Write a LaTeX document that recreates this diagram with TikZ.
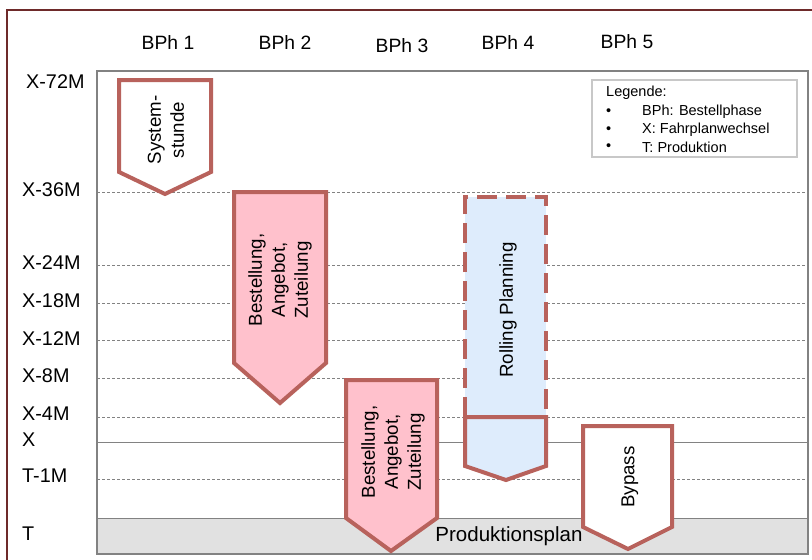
\documentclass[tikz,border=0pt]{standalone}
\usepackage{fontspec}
\setmainfont{Liberation Sans}
\definecolor{framered}{RGB}{110,42,42}
\definecolor{shapered}{RGB}{184,98,92}
\definecolor{pinkfill}{RGB}{255,193,204}
\definecolor{bluefill}{RGB}{222,236,252}
\definecolor{gridgray}{RGB}{130,130,130}
\definecolor{bandgray}{RGB}{225,225,225}
\definecolor{legendgray}{RGB}{200,200,200}
\begin{document}
\begin{tikzpicture}[x=1pt,y=1pt,
  axislabel/.style={anchor=west, inner sep=0pt, font=\fontsize{19.8}{22}\selectfont},
  header/.style={inner sep=0pt, font=\fontsize{19.3}{22}\selectfont},
  gridline/.style={draw=gridgray, line width=0.8pt, dash pattern=on 3pt off 2pt},
  solidline/.style={draw=gridgray, line width=1pt},
  phase/.style={draw=shapered, line width=4pt, miter limit=10},
  phasetext/.style={rotate=90, align=center, inner sep=0pt, font=\fontsize{18.7}{23}\selectfont},
  legendtext/.style={anchor=west, inner sep=0pt, font=\fontsize{14.5}{17}\selectfont}
]
\useasboundingbox (0,0) rectangle (812,-560);

% outer frame (runs past the page on the right and bottom)
\draw[framered, line width=1.5pt] (7,-600) -- (7,-10) -- (850,-10);

% column headers
\node[header] (h1) at (168,-43) {BPh 1};
\node[header] (h2) at (285,-43) {BPh 2};
\node[header] (h3) at (402,-46) {BPh 3};
\node[header] (h4) at (508,-43) {BPh 4};
\node[header] (h5) at (627,-42) {BPh 5};

% time axis labels
\node[axislabel] (l72) at (26,-82)  {X-72M};
\node[axislabel] (l36) at (22,-190) {X-36M};
\node[axislabel] (l24) at (22,-263) {X-24M};
\node[axislabel] (l18) at (22,-301) {X-18M};
\node[axislabel] (l12) at (22,-339) {X-12M};
\node[axislabel] (l8)  at (22,-376) {X-8M};
\node[axislabel] (l4)  at (22,-414) {X-4M};
\node[axislabel] (lx)  at (22,-440) {X};
\node[axislabel] (lt1) at (22,-476) {T-1M};
\node[axislabel] (lt)  at (22,-534) {T};

% production band and chart frame
\fill[bandgray] (97,-518) rectangle (808,-554);
\draw[gridgray, line width=1pt] (97,-518) -- (808,-518);
\draw[gridgray, line width=1.5pt] (97,-71) rectangle (808,-554);

% grid lines
\foreach \y in {192,265,303,340,378,417,479}
  \draw[gridline] (97,-\y) -- (808,-\y);
\draw[solidline] (97,-442) -- (808,-442);

% legend
\draw[legendgray, line width=1.5pt, fill=white] (592,-80) rectangle (797,-157);
\node[legendtext] (legtitle) at (606,-93) {Legende:};
\foreach \n/\y/\t in {a/112/{BPh: Bestellphase}, b/130/{X: Fahrplanwechsel}, c/147/{T: Produktion}}{
  \node[legendtext] (bul\n) at (606,-\y) {\textbullet};
  \node[legendtext] (leg\n) at (642,-\y) {\t};
}

% phase 1: Systemstunde
\draw[phase, fill=white] (119,-80) -- (211,-80) -- (211,-172) -- (165,-194) -- (119,-172) -- cycle;
\node[phasetext] (sys) at (166,-130) {System-\\stunde};

% phase 2: Bestellung, Angebot, Zuteilung
\draw[phase, fill=pinkfill] (234,-192) -- (326,-192) -- (326,-363) -- (280,-403) -- (234,-363) -- cycle;
\node[phasetext] (bau1) at (280,-280) {Bestellung,\\Angebot,\\Zuteilung};

% phase 3: Bestellung, Angebot, Zuteilung
\draw[phase, fill=pinkfill] (346,-380) -- (437,-380) -- (437,-518) -- (391,-551) -- (346,-518) -- cycle;
\node[phasetext] (bau2) at (393,-452) {Bestellung,\\Angebot,\\Zuteilung};

% phase 4: Rolling Planning
\fill[bluefill] (465,-197) rectangle (546,-417);
\draw[phase, dash pattern=on 20pt off 9pt] (465,-417) -- (465,-197) -- (546,-197) -- (546,-417);
\draw[phase, fill=bluefill] (465,-417) -- (546,-417) -- (546,-466) -- (506,-480) -- (465,-466) -- cycle;
\node[phasetext] (roll) at (508,-310) {Rolling Planning};

% phase 5: Bypass
\draw[phase, fill=white] (583,-426) -- (672,-426) -- (672,-527) -- (628,-549) -- (583,-527) -- cycle;
\node[phasetext] (bypass) at (630,-477) {Bypass};

% production plan label
\node[inner sep=0pt, font=\fontsize{20.5}{23}\selectfont] (prod) at (509,-536) {Produktionsplan};
\end{tikzpicture}
\end{document}
